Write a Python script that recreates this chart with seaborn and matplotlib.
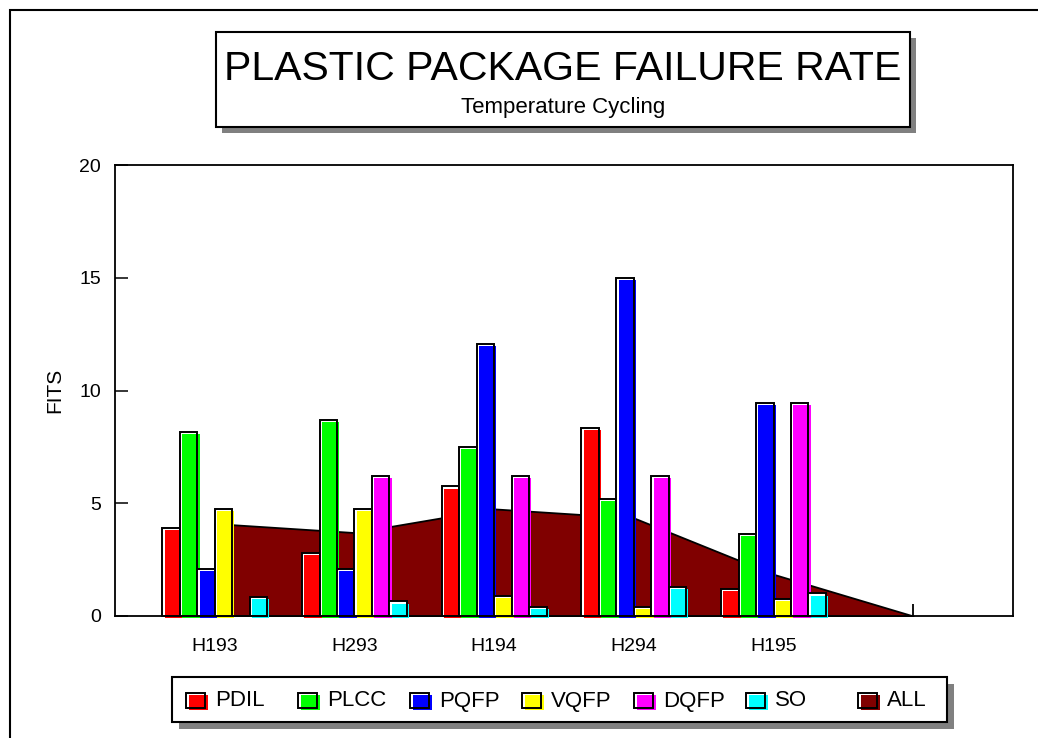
import numpy as np
import pandas as pd
import matplotlib
matplotlib.use("Agg")
import matplotlib.pyplot as plt
import seaborn as sns
from matplotlib import patheffects as pe
from matplotlib.patches import Rectangle

# Production lots and package families
lots = ["H193", "H293", "H194", "H294", "H195"]
packages = ["PDIL", "PLCC", "PQFP", "VQFP", "DQFP", "SO"]

# Failure rate (FITS) per package family and lot
pdil = [3.9, 2.8, 5.75, 8.35, 1.2]
plcc = [8.15, 8.7, 7.5, 5.2, 3.65]
pqfp = [2.1, 2.1, 12.05, 15.0, 9.45]
vqfp = [4.75, 4.75, 0.9, 0.4, 0.75]
dqfp = [0.0, 6.2, 6.2, 6.2, 9.45]
so = [0.85, 0.65, 0.4, 1.3, 1.0]

# Combined rate over all packages (last point closes the area at an empty slot)
all_pkg = [4.1, 3.7, 4.75, 4.35, 1.85, 0.0]

pkg_colors = ["#FF0000", "#00FF00", "#0000FF", "#FFFF00", "#FF00FF", "#00FFFF"]
all_color = "#800000"

series = [pdil, plcc, pqfp, vqfp, dqfp, so]
df = pd.DataFrame(
    [(lot, pkg, v) for pkg, vals in zip(packages, series) for lot, v in zip(lots, vals)],
    columns=["lot", "package", "fits"],
)

sns.set_theme(style="white")
plt.rcParams["font.family"] = ["Liberation Sans", "DejaVu Sans"]

W, H = 1038, 738
fig = plt.figure(figsize=(W / 100, H / 100), dpi=100)


def fx(px):
    return px / W


def fy(py):
    return 1 - py / H


ax_left, ax_right, ax_top, ax_bottom = 115, 1013, 165, 616
ax = fig.add_axes([fx(ax_left), fy(ax_bottom), fx(ax_right - ax_left), (ax_bottom - ax_top) / H])

# Area for all packages, behind the bars
ax.fill_between(np.arange(len(all_pkg)), all_pkg, color=all_color,
                edgecolor="black", linewidth=1.3, zorder=2)

sns.barplot(data=df, x="lot", y="fits", hue="package", order=lots,
            hue_order=packages, palette=pkg_colors, width=0.75, saturation=1,
            errorbar=None, legend=False, ax=ax, zorder=3)

# Shadowed bar look: outline in place, colour fill nudged right/down
for patch in ax.patches:
    fc = patch.get_facecolor()
    patch.set_clip_on(False)
    patch.set_path_effects([
        pe.PathPatchEffect(offset=(0, 0), facecolor="white", edgecolor="none"),
        pe.PathPatchEffect(offset=(1.6, -1.6), facecolor=fc, edgecolor="none"),
        pe.PathPatchEffect(offset=(0, 0), facecolor="none", edgecolor="black", linewidth=1.4),
    ])

ax.set_xlim(-100 / 140, 5 + 100 / 140)
ax.set_ylim(0, 20)
ax.set_yticks([0, 5, 10, 15, 20])
ax.set_xticks(range(len(lots)))
ax.set_xticklabels(lots)
ax.set_xticks([5], minor=True)
ax.set_xlabel("")
ax.set_ylabel("FITS", fontsize=15, color="black")
ax.yaxis.set_label_coords(-0.057, 0.5)

ax.tick_params(axis="y", which="major", direction="in", length=9.5, width=1.1,
               left=True, labelsize=14, pad=10, labelcolor="black", color="black")
ax.tick_params(axis="x", which="major", length=0, labelsize=14, pad=16, labelcolor="black")
ax.tick_params(axis="x", which="minor", direction="in", length=9, width=1.3,
               bottom=True, color="black")
for s in ax.spines.values():
    s.set_visible(True)
    s.set_color("black")
    s.set_linewidth(1.3)

# Outer frame
fig.add_artist(Rectangle((fx(10), -0.5), 2, fy(10) + 0.5, transform=fig.transFigure,
                         fill=False, edgecolor="black", linewidth=1.5, clip_on=False))


def shadow_box(x0, y0, x1, y1, off=6):
    fig.add_artist(Rectangle((fx(x0 + off), fy(y1 + off)), fx(x1 - x0), (y1 - y0) / H,
                             transform=fig.transFigure, facecolor="#808080",
                             edgecolor="none", zorder=5))
    fig.add_artist(Rectangle((fx(x0), fy(y1)), fx(x1 - x0), (y1 - y0) / H,
                             transform=fig.transFigure, facecolor="white",
                             edgecolor="black", linewidth=1.5, zorder=6))


# Title block
shadow_box(216, 32, 910, 127)
fig.text(fx(563), fy(80), "PLASTIC PACKAGE FAILURE RATE", ha="center", va="baseline",
         fontsize=29.5, color="black", zorder=7)
fig.text(fx(563), fy(113), "Temperature Cycling", ha="center", va="baseline",
         fontsize=16, color="black", zorder=7)

# Legend block
shadow_box(172, 677, 947, 722, off=7)
names = packages + ["ALL"]
cols = pkg_colors + [all_color]
for i, (name, c) in enumerate(zip(names, cols)):
    x0 = 186 + 112 * i
    y0 = 693
    sw, sh = 19, 15
    fig.add_artist(Rectangle((fx(x0 + 3), fy(y0 + sh + 2)), fx(sw), sh / H,
                             transform=fig.transFigure, facecolor=c, edgecolor="none", zorder=7))
    fig.add_artist(Rectangle((fx(x0), fy(y0 + sh)), fx(sw), sh / H,
                             transform=fig.transFigure, facecolor="none", edgecolor="black",
                             linewidth=1.4, zorder=8))
    fig.text(fx(x0 + 29), fy(701), name, ha="left", va="center", fontsize=16,
             color="black", zorder=8)

fig.savefig("out.png", dpi=100, facecolor="white")
